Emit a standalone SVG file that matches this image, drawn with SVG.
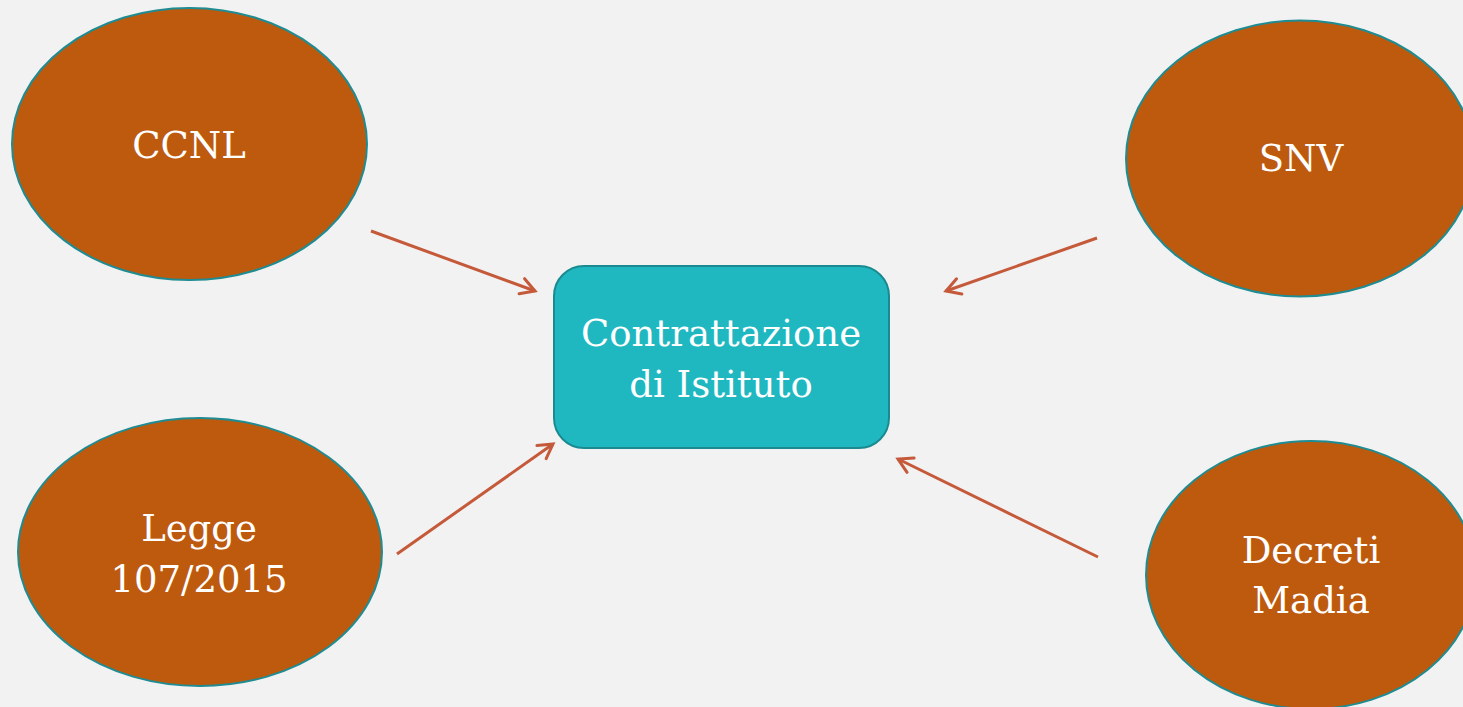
<svg xmlns="http://www.w3.org/2000/svg" width="1463" height="707" viewBox="0 0 1463 707">
<defs>
<marker id="arr" viewBox="0 0 20 20" refX="17" refY="10" markerWidth="20" markerHeight="20" markerUnits="userSpaceOnUse" orient="auto">
<path d="M3,2 L17,10 L3,18" fill="none" stroke="#C55A3A" stroke-width="3" stroke-linecap="round" stroke-linejoin="miter"/>
</marker>
</defs>
<style>
.oval{fill:#BE5A0E;stroke:#1E8C92;stroke-width:2}
.box{fill:#1FB8C1;stroke:#1A8A90;stroke-width:2}
.t{font-family:"Palatino Linotype","Book Antiqua","DejaVu Serif","Liberation Serif",serif;fill:#fff;text-anchor:middle;font-size:37px}
.c{stroke:#C55A3A;stroke-width:3;fill:none;marker-end:url(#arr)}
</style>
<rect width="1463" height="707" fill="#F2F2F2"/>
<g id="connectors">
<line class="c" x1="371" y1="231" x2="535" y2="291"/>
<line class="c" x1="1097" y1="238" x2="946" y2="291"/>
<line class="c" x1="397" y1="554" x2="553" y2="444"/>
<line class="c" x1="1098" y1="557" x2="898" y2="459"/>
</g>
<g id="ccnl">
<ellipse class="oval" cx="189.5" cy="144" rx="177.5" ry="136"/>
<text class="t" x="189" y="158">CCNL</text>
</g>
<g id="snv">
<ellipse class="oval" cx="1300" cy="158.5" rx="174" ry="138"/>
<text class="t" x="1301" y="171">SNV</text>
</g>
<g id="legge">
<ellipse class="oval" cx="200" cy="552" rx="182" ry="134"/>
<text class="t" x="199" y="541">Legge</text>
<text class="t" x="199" y="592">107/2015</text>
</g>
<g id="decreti">
<ellipse class="oval" cx="1311" cy="575" rx="165" ry="134"/>
<text class="t" x="1311" y="563">Decreti</text>
<text class="t" x="1311" y="613">Madia</text>
</g>
<g id="contrattazione">
<rect class="box" x="554" y="266" width="335" height="182" rx="30"/>
<text class="t" x="721" y="346">Contrattazione</text>
<text class="t" x="721" y="397">di Istituto</text>
</g>
</svg>
